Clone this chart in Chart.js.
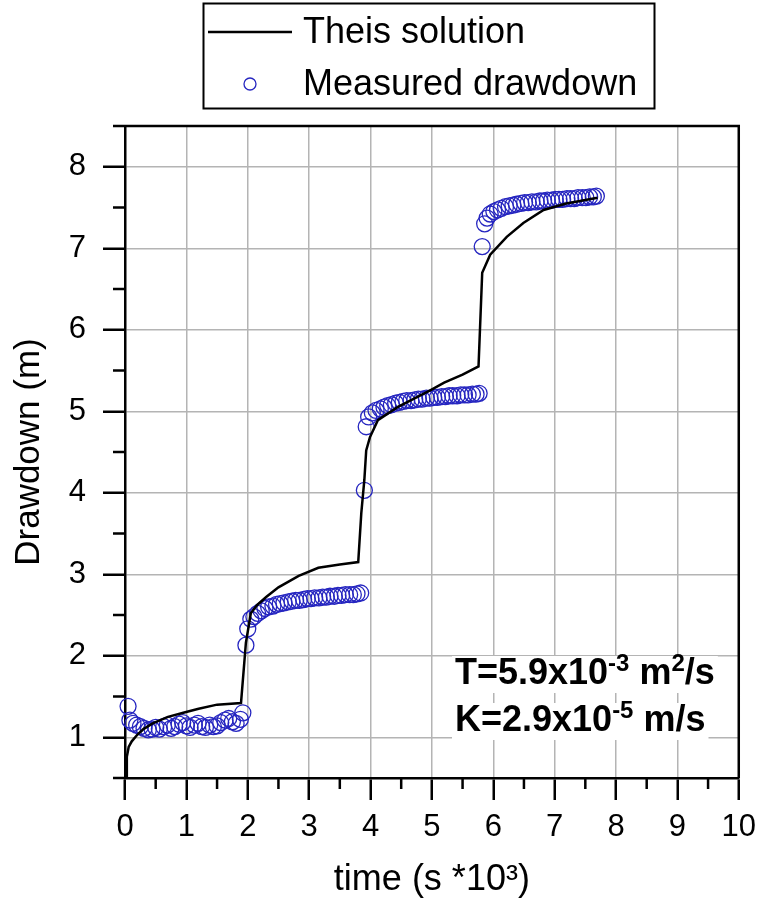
<!DOCTYPE html>
<html>
<head>
<meta charset="utf-8">
<script src="https://cdn.jsdelivr.net/npm/chart.js@4.4.0/dist/chart.umd.min.js"></script>
<style>
body{margin:0;background:#fff}
</style>
</head>
<body>
<canvas id="grafico" width="765" height="903"></canvas>
<script>
// Theis solution (time in s*10^3, drawdown in m)
const theisT = [0.02,0.03,0.06,0.11,0.2,0.3,0.45,0.7,0.95,1.2,1.5,1.89,
  1.97,2.05,2.15,2.3,2.5,2.83,3.15,3.5,3.8,
  3.85,3.9,3.93,3.99,4.12,4.44,4.98,5.2,5.5,5.76,
  5.82,5.95,6.22,6.49,6.82,7.19,7.7]
const theisS = [0.5,0.76,0.88,0.95,1.03,1.1,1.17,1.25,1.3,1.35,1.4,1.42,
  2.16,2.52,2.62,2.72,2.84,2.98,3.08,3.12,3.15,
  3.75,4.16,4.52,4.68,4.89,5.05,5.26,5.35,5.45,5.55,
  6.7,6.92,7.14,7.31,7.47,7.55,7.62]

// measured drawdown
const medT = [0.05,0.08,0.13,0.19,0.25,0.31,0.38,0.44,0.5,0.56,0.63,0.69,0.75,0.81,0.88,0.94,1.0,1.06,1.13,1.19,1.25,1.31,1.38,1.44,1.5,1.56,1.63,1.69,1.75,1.81,1.88,1.92,
  1.97,2.0,2.05,2.1,2.16,2.22,2.28,2.34,2.41,2.47,2.53,2.59,2.66,2.72,2.78,2.84,2.91,2.97,3.03,3.09,3.16,3.22,3.28,3.34,3.41,3.47,3.53,3.59,3.66,3.72,3.78,3.84,
  3.9,3.93,3.97,4.03,4.09,4.16,4.22,4.28,4.34,4.41,4.47,4.53,4.59,4.66,4.72,4.78,4.84,4.91,4.97,5.03,5.09,5.16,5.22,5.28,5.34,5.41,5.47,5.53,5.59,5.66,5.72,5.77,
  5.82,5.86,5.9,5.95,6.01,6.07,6.13,6.2,6.26,6.32,6.38,6.45,6.51,6.57,6.63,6.7,6.76,6.82,6.88,6.95,7.01,7.07,7.13,7.2,7.26,7.32,7.38,7.45,7.51,7.57,7.63,7.68]
const medS = [1.38,1.21,1.17,1.15,1.13,1.11,1.09,1.1,1.12,1.1,1.13,1.15,1.11,1.13,1.16,1.18,1.14,1.12,1.15,1.17,1.13,1.12,1.15,1.13,1.14,1.18,1.21,1.23,1.19,1.17,1.22,1.3,
  2.13,2.33,2.45,2.48,2.52,2.55,2.58,2.6,2.61,2.63,2.64,2.65,2.66,2.67,2.68,2.68,2.69,2.7,2.7,2.71,2.71,2.72,2.72,2.73,2.73,2.74,2.74,2.75,2.75,2.75,2.76,2.77,
  4.03,4.81,4.93,4.98,5.01,5.03,5.05,5.07,5.08,5.1,5.11,5.12,5.13,5.13,5.14,5.15,5.15,5.16,5.16,5.17,5.17,5.18,5.18,5.19,5.19,5.19,5.2,5.2,5.2,5.21,5.21,5.22,
  7.02,7.3,7.37,7.42,7.45,7.47,7.49,7.51,7.52,7.53,7.54,7.55,7.56,7.56,7.57,7.57,7.58,7.58,7.59,7.59,7.6,7.6,7.6,7.61,7.61,7.61,7.62,7.62,7.62,7.63,7.63,7.64]

const xTicks = [0,1,2,3,4,5,6,7,8,9,10]
const yTicks = [1,2,3,4,5,6,7,8]
const xMinor = [0.5,1.5,2.5,3.5,4.5,5.5,6.5,7.5,8.5,9.5]
const yMinor = [0.5,1.5,2.5,3.5,4.5,5.5,6.5,7.5,8.5]

const pontos = (xs, ys) => xs.map((x, i) => ({x: x, y: ys[i]}))
const fonte = '"Liberation Sans", Arial, sans-serif'
const azul = '#2626c0'

// minor ticks, frame, legend box and T/K text
const extras = {
  id: 'extras',
  afterDraw(chart) {
    const ctx = chart.ctx
    const a = chart.chartArea
    const sx = chart.scales.x, sy = chart.scales.y
    ctx.save()
    ctx.strokeStyle = '#000'
    ctx.lineWidth = 2.5
    ctx.beginPath()
    xMinor.forEach(v => {
      const p = sx.getPixelForValue(v)
      ctx.moveTo(p, a.bottom); ctx.lineTo(p, a.bottom + 11)
    })
    yMinor.forEach(v => {
      const p = sy.getPixelForValue(v)
      ctx.moveTo(a.left, p); ctx.lineTo(a.left - 12, p)
    })
    // top and right frame
    ctx.moveTo(a.left, a.top); ctx.lineTo(a.right, a.top); ctx.lineTo(a.right, a.bottom)
    ctx.stroke()

    // legend
    ctx.lineWidth = 2
    ctx.strokeRect(203.5, 3.5, 451, 105)
    ctx.lineWidth = 2.5
    ctx.beginPath(); ctx.moveTo(208, 32); ctx.lineTo(292, 32); ctx.stroke()
    ctx.strokeStyle = azul
    ctx.lineWidth = 1.3
    ctx.beginPath(); ctx.arc(250, 84, 6, 0, Math.PI * 2); ctx.stroke()
    ctx.fillStyle = '#000'
    ctx.font = '36px ' + fonte
    ctx.textBaseline = 'middle'
    ctx.fillText('Theis solution', 303, 33)
    ctx.fillText('Measured drawdown', 303, 85)

    // parameters
    const linha = (partes, x, base) => {
      let cx = x
      const larg = partes.reduce((s, p) => {
        ctx.font = 'bold ' + (p.sup ? 24 : 36) + 'px ' + fonte
        return s + ctx.measureText(p.t).width
      }, 0)
      ctx.fillStyle = '#fff'
      ctx.fillRect(x - 3, base - 28, larg + 6, 37)
      ctx.fillStyle = '#000'
      ctx.textBaseline = 'alphabetic'
      partes.forEach(p => {
        ctx.font = 'bold ' + (p.sup ? 24 : 36) + 'px ' + fonte
        ctx.fillText(p.t, cx, p.sup ? base - 13 : base)
        cx += ctx.measureText(p.t).width
      })
    }
    linha([{t: 'T=5.9x10'}, {t: '-3', sup: true}, {t: ' m'}, {t: '2', sup: true}, {t: '/s'}], 455, 684)
    linha([{t: 'K=2.9x10'}, {t: '-5', sup: true}, {t: ' m/s'}], 455, 731)
    ctx.restore()
  }
}

const ctx = document.getElementById('grafico').getContext('2d')
new Chart(ctx, {
  type: 'scatter',
  data: {
    datasets: [{
      label: 'Theis solution',
      data: pontos(theisT, theisS),
      showLine: true,
      borderColor: '#000',
      borderWidth: 2.5,
      pointRadius: 0,
      tension: 0
    }, {
      label: 'Measured drawdown',
      data: pontos(medT, medS),
      showLine: false,
      pointRadius: 8,
      pointBorderWidth: 1.3,
      borderColor: azul,
      backgroundColor: 'rgba(0,0,0,0)',
      clip: 12
    }]
  },
  options: {
    responsive: false,
    animation: false,
    layout: {padding: {left: 0, right: 21, top: 126, bottom: 0}},
    plugins: {
      legend: {display: false},
      tooltip: {enabled: false}
    },
    scales: {
      x: {
        type: 'linear',
        min: 0,
        max: 10,
        afterBuildTicks: s => { s.ticks = xTicks.map(v => ({value: v})) },
        afterFit: s => { s.height = 125 },
        border: {display: true, color: '#000', width: 2.5},
        grid: {color: '#b4b4b4', lineWidth: 1.5, tickColor: '#000', tickWidth: 2.5, tickLength: 22},
        ticks: {color: '#000', font: {family: fonte, size: 31}, padding: 9, maxRotation: 0, autoSkip: false},
        title: {display: true, text: 'time (s *10³)', color: '#000', font: {family: fonte, size: 36}, padding: {top: 0, bottom: 1}}
      },
      y: {
        type: 'linear',
        min: 0.5,
        max: 8.5,
        afterBuildTicks: s => { s.ticks = yTicks.map(v => ({value: v})) },
        afterFit: s => { s.width = 125 },
        border: {display: true, color: '#000', width: 2.5},
        grid: {color: '#b4b4b4', lineWidth: 1.5, tickColor: '#000', tickWidth: 2.5, tickLength: 22},
        ticks: {color: '#000', font: {family: fonte, size: 31}, padding: 17, autoSkip: false},
        title: {display: true, text: 'Drawdown (m)', color: '#000', font: {family: fonte, size: 35}, padding: {top: 8, bottom: 0}}
      }
    }
  },
  plugins: [extras]
})
</script>
</body>
</html>
